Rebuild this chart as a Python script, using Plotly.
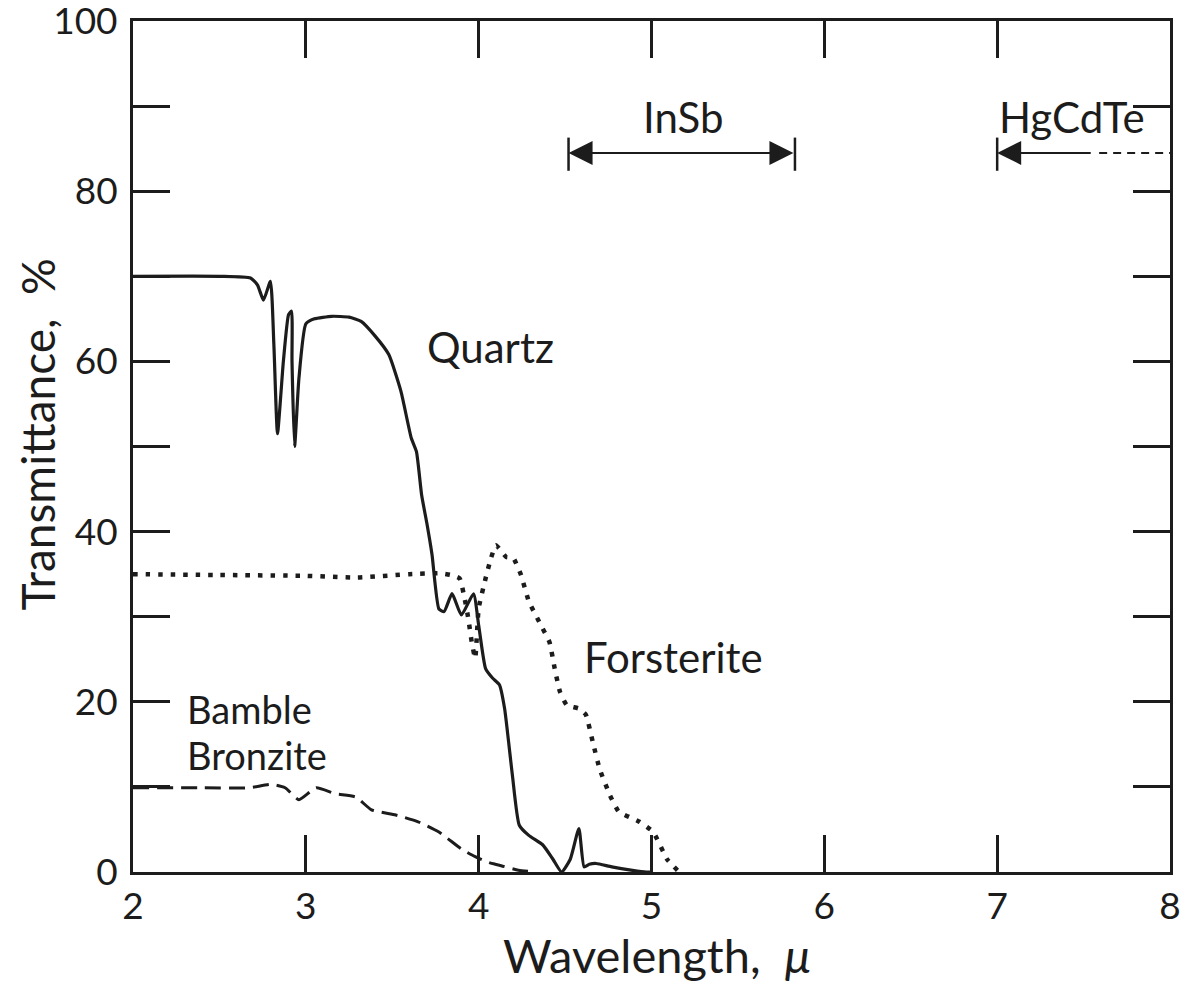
import plotly.graph_objects as go

# ---- data ----
quartz_x = [2.0, 2.5, 2.68, 2.72, 2.755, 2.795, 2.815, 2.836, 2.87, 2.90, 2.917, 2.92, 2.935, 2.96, 3.0, 3.05, 3.15, 3.25, 3.32, 3.40, 3.48, 3.55, 3.61, 3.64, 3.67, 3.70, 3.73, 3.77, 3.80, 3.846, 3.90, 3.97, 4.00, 4.04, 4.08, 4.12, 4.15, 4.195, 4.235, 4.29, 4.37, 4.43, 4.48, 4.53, 4.58, 4.61, 4.64, 4.68, 4.77, 4.89, 4.97, 5.0]
quartz_y = [70.0, 70.0, 69.8, 69.0, 67.2, 69.4, 62.0, 51.5, 60.0, 65.5, 65.9, 60.0, 50.0, 58.0, 64.4, 65.0, 65.3, 65.2, 64.7, 63.0, 60.8, 56.5, 51.0, 49.4, 44.3, 41.0, 37.3, 30.9, 30.6, 32.7, 30.2, 32.7, 29.0, 23.9, 22.8, 22.0, 19.2, 11.4, 5.5, 4.3, 3.2, 1.5, 0.0, 1.5, 5.1, 0.6, 0.9, 1.0, 0.6, 0.2, 0.0, 0.0]

forst_x = [2.0, 2.5, 3.0, 3.3, 3.6, 3.78, 3.84, 3.89, 3.92, 3.94, 3.96, 3.98, 4.0, 4.04, 4.07, 4.10, 4.16, 4.20, 4.245, 4.29, 4.35, 4.41, 4.44, 4.47, 4.51, 4.58, 4.62, 4.66, 4.70, 4.76, 4.81, 4.93, 5.01, 5.09, 5.15]
forst_y = [35.0, 34.9, 34.8, 34.6, 35.0, 35.1, 34.9, 34.5, 32.0, 29.8, 27.0, 25.1, 31.0, 34.5, 36.8, 38.4, 37.0, 36.9, 34.9, 31.8, 29.4, 27.0, 23.9, 21.2, 19.6, 19.2, 18.5, 15.3, 12.1, 9.0, 7.1, 5.9, 4.7, 1.5, 0.2]

bronz_x = [2.0, 2.4, 2.67, 2.80, 2.88, 2.96, 3.06, 3.17, 3.29, 3.38, 3.52, 3.65, 3.77, 3.90, 3.98, 4.06, 4.12, 4.23, 4.33]
bronz_y = [9.9, 9.9, 9.9, 10.3, 9.9, 8.5, 9.9, 9.2, 8.8, 7.3, 6.7, 5.9, 4.7, 2.7, 1.8, 1.1, 0.8, 0.2, 0.0]

x_ticks = [2, 3, 4, 5, 6, 7, 8]
y_ticks = [0, 20, 40, 60, 80, 100]

insb_range = [4.52, 5.83]
hgcdte_start = 7.0
hgcdte_solid_end = 7.55
band_y = 84.5

labels = [
    ("Quartz", 3.69, 61.7, "left", 42),
    ("Forsterite", 4.60, 25.3, "left", 42),
    ("Bamble", 2.30, 19.1, "left", 38),
    ("Bronzite", 2.30, 13.8, "left", 38),
    ("InSb", 5.18, 88.7, "center", 42),
    ("HgCdTe", 7.0, 88.7, "left", 42),
]

INK = "#1c1c1c"
FONT = "Lato"

fig = go.Figure()
fig.add_trace(go.Scatter(x=quartz_x, y=quartz_y, mode="lines",
                         line=dict(color=INK, width=3.2, shape="spline", smoothing=0.5),
                         hoverinfo="skip"))
fig.add_trace(go.Scatter(x=forst_x, y=forst_y, mode="lines",
                         line=dict(color=INK, width=4.5, dash="4.5px,8px", shape="spline", smoothing=0.4),
                         hoverinfo="skip"))
fig.add_trace(go.Scatter(x=bronz_x, y=bronz_y, mode="lines",
                         line=dict(color=INK, width=3, dash="16px,8px", shape="spline", smoothing=0.5),
                         hoverinfo="skip"))

# band indicators
shapes = []
for xv in insb_range + [hgcdte_start]:
    shapes.append(dict(type="line", xref="x", yref="y", x0=xv, x1=xv, y0=band_y - 2.1, y1=band_y + 1.8,
                       line=dict(color=INK, width=2.5)))
shapes.append(dict(type="line", xref="x", yref="y", x0=hgcdte_solid_end + 0.04, x1=8.0, y0=band_y, y1=band_y,
                   line=dict(color=INK, width=2, dash="8px,6px")))
fig.update_layout(shapes=shapes)

fig.add_annotation(x=insb_range[0], y=band_y, ax=insb_range[1], ay=band_y, xref="x", yref="y",
                   axref="x", ayref="y", showarrow=True, arrowhead=2, arrowside="end+start",
                   arrowsize=2.4, arrowwidth=2, arrowcolor=INK, text="")
fig.add_annotation(x=hgcdte_start, y=band_y, ax=hgcdte_solid_end, ay=band_y, xref="x", yref="y",
                   axref="x", ayref="y", showarrow=True, arrowhead=2, arrowside="end",
                   arrowsize=2.4, arrowwidth=2, arrowcolor=INK, text="")

for txt, x, y, al, sz in labels:
    fig.add_annotation(x=x, y=y, xref="x", yref="y", text=txt, showarrow=False,
                       xanchor=al, yanchor="middle", align="left",
                       font=dict(family=FONT, size=sz, color=INK))

# axis titles
fig.add_annotation(x=0.505, y=-0.097, xref="paper", yref="paper", xanchor="center", yanchor="middle",
                   text="Wavelength,  <i>μ</i>", showarrow=False,
                   font=dict(family=FONT, size=47, color=INK))
fig.add_annotation(x=-0.093, y=0.5135, xref="paper", yref="paper", xanchor="center", yanchor="middle",
                   text="Transmittance,  %", textangle=-90, showarrow=False,
                   font=dict(family=FONT, size=46, color=INK))

axis_common = dict(showgrid=False, zeroline=False, showline=True, linecolor=INK, linewidth=3,
                   mirror="ticks", ticks="inside", tickcolor=INK, tickwidth=2.5, ticklen=37,
                   automargin=False, ticklabeloverflow="allow",
                   tickfont=dict(family=FONT, size=37, color=INK))

fig.update_xaxes(range=[2, 8], tickvals=x_ticks, ticktext=[str(v) for v in x_ticks],
                 ticklabelstandoff=0, **axis_common)
fig.update_yaxes(range=[0, 100], tickvals=y_ticks, ticktext=[str(v) for v in y_ticks],
                 minor=dict(dtick=10, ticks="inside", ticklen=37, tickwidth=2.5, tickcolor=INK),
                 ticklabelstandoff=5, **axis_common)

fig.update_layout(width=1196, height=985, plot_bgcolor="white", paper_bgcolor="white",
                  margin=dict(l=125, r=34, t=13, b=121), showlegend=False)

fig.write_html("out.html")
